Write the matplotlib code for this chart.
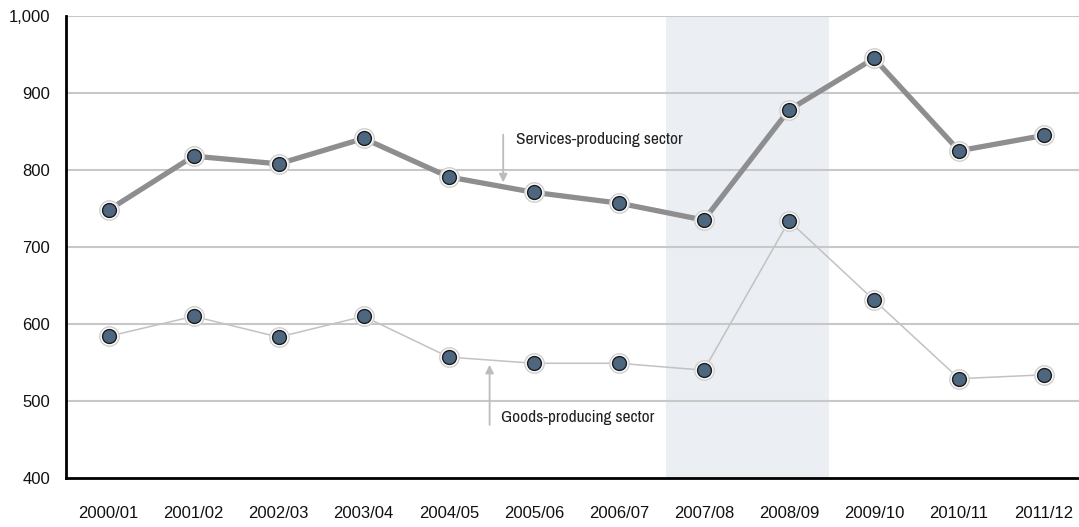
import matplotlib
matplotlib.use("Agg")
import matplotlib.pyplot as plt

years = ["2000/01", "2001/02", "2002/03", "2003/04", "2004/05", "2005/06",
         "2006/07", "2007/08", "2008/09", "2009/10", "2010/11", "2011/12"]
services = [748, 818, 808, 841, 791, 771, 757, 735, 878, 945, 825, 845]
goods = [584, 610, 583, 610, 557, 549, 549, 540, 734, 631, 529, 534]
recession = (6.56, 8.47)
y_ticks = [400, 500, 600, 700, 800, 900, 1000]

plt.rcParams["font.family"] = ["Liberation Sans", "DejaVu Sans"]
label_font = ["Archivo Narrow", "Roboto Condensed", "Liberation Sans Narrow", "DejaVu Sans"]

fig = plt.figure(figsize=(10.79, 5.27), dpi=100)
ax = fig.add_axes([0.0612, 0.093, 0.9388, 0.8766])

x = list(range(len(years)))

ax.axvspan(*recession, color="#ebeef2", zorder=0, lw=0)

for y in y_ticks[1:]:
    ax.axhline(y, color="#c8c8c8", lw=1.5, zorder=1)

ax.plot(x, services, color="#8e8e90", lw=3.8, zorder=3, solid_capstyle="butt")
ax.plot(x, goods, color="#c2c2c2", lw=1.1, zorder=3)

for series in (services, goods):
    ax.plot(x, series, ls="none", marker="o", ms=14, mfc="white",
            mec="#cfcfcf", mew=1.0, zorder=4)
    ax.plot(x, series, ls="none", marker="o", ms=10, mfc="#4e6781",
            mec="#1c1c1c", mew=1.0, zorder=5)

# labels for the two series
ax.annotate("", xy=(4.64, 784), xytext=(4.64, 846),
            arrowprops=dict(arrowstyle="-|>", color="#bcbcbc", lw=1.3,
                            mutation_scale=12, shrinkA=0, shrinkB=0), zorder=2)
ax.text(4.79, 840, "Services-producing sector", fontsize=12.5, family=label_font,
        color="#222222", va="center", ha="left")
ax.annotate("", xy=(4.48, 547), xytext=(4.48, 469),
            arrowprops=dict(arrowstyle="-|>", color="#bcbcbc", lw=1.3,
                            mutation_scale=12, shrinkA=0, shrinkB=0), zorder=2)
ax.text(4.61, 478, "Goods-producing sector", fontsize=12.5, family=label_font,
        color="#222222", va="center", ha="left")

ax.set_xlim(-0.5, 11.41)
ax.set_ylim(400, 1000)
ax.set_xticks(x)
ax.set_xticklabels(years)
ax.set_yticks(y_ticks)
ax.set_yticklabels([f"{v:,}" for v in y_ticks])
ax.tick_params(axis="both", length=0, labelsize=12, colors="#111111")
ax.tick_params(axis="x", pad=20)
ax.tick_params(axis="y", pad=11.5)

for side in ("top", "right"):
    ax.spines[side].set_visible(False)
for side in ("left", "bottom"):
    ax.spines[side].set_color("black")
    ax.spines[side].set_linewidth(2)
    ax.spines[side].set_zorder(6)

fig.savefig("out.png", dpi=100)
